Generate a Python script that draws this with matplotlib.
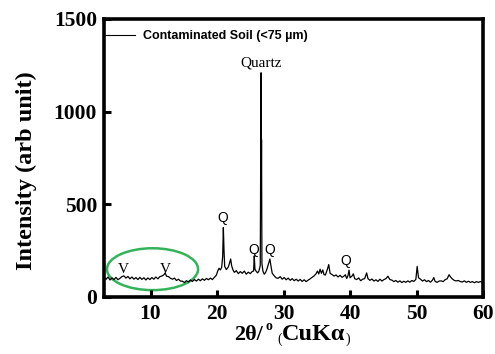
import matplotlib
matplotlib.use("Agg")
import matplotlib.pyplot as plt
from matplotlib.patches import Ellipse

# XRD pattern of the contaminated soil fraction (<75 um)
two_theta = [
    3.0, 3.3, 3.6, 3.9, 4.2, 4.5, 4.8, 5.1, 5.4, 5.7, 6.0, 6.3, 6.6, 6.9, 7.2, 7.5,
    7.8, 8.1, 8.4, 8.7, 9.0, 9.3, 9.6, 9.9, 10.2, 10.5, 10.8, 11.1, 11.4, 11.7, 12.0,
    12.2, 12.4, 12.7, 13.0, 13.3, 13.6, 13.9, 14.2, 14.5, 14.8, 15.1, 15.4, 15.7, 16.0,
    16.3, 16.6, 16.9, 17.2, 17.5, 17.8, 18.1, 18.4, 18.7, 19.0, 19.3, 19.6, 19.9, 20.1,
    20.3, 20.5, 20.7, 20.85, 20.95, 21.05, 21.15, 21.4, 21.7, 21.9, 22.05, 22.2, 22.4,
    22.6, 22.9, 23.2, 23.5, 23.8, 24.1, 24.4, 24.7, 25.0, 25.3, 25.5, 25.6, 25.7, 25.9,
    26.1, 26.3, 26.5, 26.62, 26.66, 26.69, 26.75, 26.9, 27.1, 27.3, 27.5, 27.7, 27.95,
    28.1, 28.3, 28.6, 28.9, 29.2, 29.5, 29.8, 30.1, 30.4, 30.7, 31.0, 31.3, 31.6, 31.9,
    32.2, 32.5, 32.8, 33.1, 33.4, 33.7, 34.0, 34.3, 34.6, 34.9, 35.1, 35.3, 35.5, 35.7,
    35.9, 36.1, 36.3, 36.6, 36.8, 37.0, 37.3, 37.6, 37.9, 38.2, 38.5, 38.8, 39.1, 39.3,
    39.5, 39.7, 39.85, 40.0, 40.3, 40.5, 40.7, 41.0, 41.3, 41.6, 41.9, 42.2, 42.5, 42.7,
    43.0, 43.3, 43.6, 43.9, 44.2, 44.5, 44.8, 45.1, 45.4, 45.7, 46.0, 46.3, 46.6, 46.9,
    47.2, 47.5, 47.8, 48.1, 48.4, 48.7, 49.0, 49.3, 49.6, 49.9, 50.1, 50.3, 50.6, 50.9,
    51.2, 51.5, 51.8, 52.1, 52.4, 52.6, 52.8, 53.1, 53.4, 53.7, 54.0, 54.3, 54.6, 54.9,
    55.1, 55.4, 55.7, 56.0, 56.3, 56.6, 56.9, 57.2, 57.5, 57.8, 58.1, 58.4, 58.7, 59.0,
    59.3, 59.6, 60.0,
]
intensity = [
    106, 95, 108, 92, 103, 94, 106, 93, 101, 110, 114, 102, 111, 98, 108, 96,
    105, 94, 106, 95, 104, 92, 103, 94, 105, 96, 108, 98, 110, 113, 120,
    130, 112, 110, 101, 96, 102, 89, 96, 86, 85, 78, 88, 81, 91,
    84, 94, 86, 96, 88, 98, 90, 100, 93, 102, 94, 106, 118, 140,
    155, 146, 160, 220, 375, 250, 165, 148, 162, 185, 205, 168, 146,
    133, 142, 126, 137, 128, 140, 123, 134, 126, 138, 140, 222, 150, 138,
    130, 140, 170, 1210, 600, 850, 180, 140, 123, 132, 150, 175, 205,
    170, 128, 114, 103, 101, 110, 96, 105, 93, 102, 90, 99, 88, 96,
    86, 95, 84, 93, 83, 91, 98, 106, 114, 126, 140, 124, 150, 128,
    146, 120, 119, 150, 175, 128, 121, 113, 119, 108, 117, 106, 113, 120,
    100, 116, 145, 104, 113, 125, 99, 94, 103, 88, 96, 99, 130, 99,
    90, 97, 86, 93, 84, 96, 86, 94, 99, 112, 94, 91, 83, 89,
    80, 87, 78, 85, 79, 87, 80, 89, 84, 95, 165, 104, 96, 86,
    93, 83, 89, 80, 91, 105, 84, 79, 86, 87, 83, 93, 98, 120,
    109, 97, 89, 87, 89, 83, 81, 87, 79, 85, 79, 83, 77, 83,
    79, 83, 80,
]

# Phase labels: text, 2theta, intensity
peak_labels = ["Q", "Q", "Q", "Q"]
peak_x = [20.9, 25.55, 27.95, 39.4]
peak_y = [425, 253, 253, 194]
v_labels = ["V", "V"]
v_x = [5.86, 12.2]
v_y = [150, 150]

x_ticks = [10, 20, 30, 40, 50, 60]
y_ticks = [0, 500, 1000, 1500]

serif = "Liberation Serif"
sans = "Liberation Sans"

fig = plt.figure(figsize=(4.95, 3.54), dpi=100)
ax = fig.add_axes([104 / 495, 1 - 297 / 354, (483 - 104) / 495, (297 - 19) / 354])

ax.plot(two_theta, intensity, color="black", lw=0.9, label="Contaminated Soil (<75 \u00b5m)")

ax.set_xlim(3, 60)
ax.set_ylim(0, 1500)
ax.set_xticks(x_ticks)
ax.set_yticks(y_ticks)
ax.tick_params(direction="in", length=5, width=2.2, labelsize=15.5, pad=5)
for lbl in ax.get_xticklabels() + ax.get_yticklabels():
    lbl.set_fontfamily(serif)
    lbl.set_fontweight("bold")
for s in ax.spines.values():
    s.set_linewidth(2.6)

leg = ax.legend(loc="center left", bbox_to_anchor=(0, 1 - 17 / 278), frameon=False,
                handlelength=2.5, handletextpad=0.6, borderpad=0, borderaxespad=0,
                prop={"family": sans, "weight": "bold", "size": 9})
for h in leg.get_lines():
    h.set_linewidth(0.8)

ax.text(26.65, 1265, "Quartz", family=serif, fontsize=11, ha="center", va="center")
for t, x, y in zip(peak_labels, peak_x, peak_y):
    ax.text(x, y, t, family=sans, fontsize=10, ha="center", va="center")
for t, x, y in zip(v_labels, v_x, v_y):
    ax.text(x, y, t, family=serif, fontsize=11, ha="center", va="center")

ax.add_patch(Ellipse((10.3, 150), 13.7, 226, fill=False, edgecolor="#33b35a", lw=1.8))

ax.set_ylabel("Intensity (arb unit)", family=serif, fontweight="bold", fontsize=17.5)
ax.yaxis.set_label_coords(-(104 - 37) / 379, 0.455)

# composite x-axis label: 2θ/ ° (CuKα), pieces laid out left to right
renderer = fig.canvas.get_renderer()
pieces = [
    ("2\u03b8/", dict(fontweight="bold", fontsize=16), 340, 0),
    ("o", dict(fontweight="bold", fontsize=10), 330, 3),
    ("(", dict(fontsize=10), 343, 5),
    ("CuK\u03b1", dict(fontweight="bold", fontsize=17.5), 340, 0),
    (")", dict(fontsize=10), 343, 0),
]
x_px = 234
for text, kw, base_px, gap in pieces:
    x_px += gap
    t = fig.text(x_px / 495, 1 - base_px / 354, text, family=serif, va="baseline", **kw)
    x_px = t.get_window_extent(renderer).x1

fig.savefig("out.png", dpi=100)
